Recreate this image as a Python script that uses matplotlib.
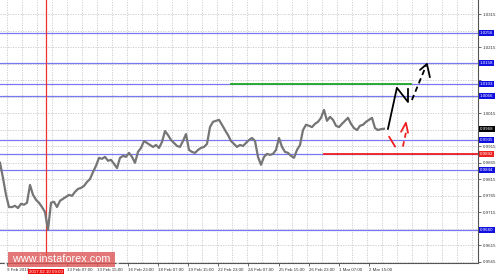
import matplotlib
matplotlib.use("Agg")
import matplotlib.pyplot as plt
from matplotlib.patches import FancyBboxPatch
import numpy as np

# --- DATA ---
# close prices, one sample per 3 hours
prices = [
    0.9865, 0.9819, 0.9768, 0.9731, 0.9731, 0.9735, 0.9728, 0.9741, 0.9738, 0.9744,
    0.9798, 0.9768, 0.9753, 0.9744, 0.9731, 0.9716, 0.9662, 0.9744, 0.9747, 0.9731,
    0.9750, 0.9756, 0.9762, 0.9768, 0.9765, 0.9777, 0.9786, 0.9789, 0.9795, 0.9807,
    0.9816, 0.9837, 0.9856, 0.9880, 0.9877, 0.9883, 0.9871, 0.9874, 0.9862, 0.9849,
    0.9880, 0.9886, 0.9883, 0.9895, 0.9883, 0.9865, 0.9898, 0.9910, 0.9931, 0.9925,
    0.9919, 0.9913, 0.9919, 0.9910, 0.9928, 0.9961, 0.9949, 0.9934, 0.9925, 0.9916,
    0.9913, 0.9931, 0.9952, 0.9904, 0.9898, 0.9895, 0.9904, 0.9910, 0.9913, 0.9922,
    0.9973, 0.9989, 0.9992, 0.9995, 0.9980, 0.9964, 0.9949, 0.9931, 0.9922, 0.9913,
    0.9919, 0.9916, 0.9925, 0.9934, 0.9940, 0.9931, 0.9883, 0.9859, 0.9883, 0.9892,
    0.9889, 0.9892, 0.9904, 0.9940, 0.9913, 0.9898, 0.9895, 0.9886, 0.9880, 0.9904,
    0.9919, 0.9964, 0.9980, 0.9977, 0.9973, 0.9983, 0.9989, 1.0001, 1.0025, 0.9992,
    1.0004, 0.9995, 0.9977, 0.9973, 0.9983, 0.9992, 1.0001, 0.9983, 0.9970, 0.9964,
    0.9977, 0.9980, 0.9989, 0.9995, 1.0001, 0.9970, 0.9964, 0.9967, 0.9968,
]
last_price = "0.9968"

# support / resistance levels (blue) and their labels
levels = [1.0257, 1.0168, 1.0103, 1.0066, 0.9935, 0.9892, 0.9843, 0.9661]
level_labels = ["1.0256", "1.0158", "1.0103", "1.0066", "0.9935", "0.9892", "0.9844", "0.9660"]
green_level = 1.0103
green_span = (77, 137)
red_level = 0.9892
red_start = 108
red_vline = 15.3
red_vline_label = "2017.02.10 09:00"

price_ticks = [0.9565, 0.9615, 0.9665, 0.9715, 0.9765, 0.9815, 0.9865, 0.9915, 0.9965,
               1.0015, 1.0065, 1.0115, 1.0165, 1.0215, 1.0265, 1.0315]
# tick labels hidden behind the level boxes
hidden_ticks = [0.9665, 0.9965, 1.0065, 1.0115, 1.0165, 1.0265]
time_ticks = [2.3, 22.3, 32.3, 42.6, 52.6, 62.6, 72.6, 82.6, 92.9, 103.0, 113.0, 123.0]
time_labels = ["9 Feb 2017", "13 Feb 07:00", "13 Feb 15:00", "16 Feb 23:00", "18 Feb 07:00",
               "19 Feb 15:00", "22 Feb 23:00", "24 Feb 07:00", "25 Feb 15:00",
               "26 Feb 23:00", "1 Mar 07:00", "2 Mar 15:00"]

# hand-drawn forecast paths (bar, price)
bull_path = [(129.3, 0.9967), (132.3, 1.0092), (136.0, 1.0049), (136.0, 1.0089)]
bull_dash = [(137.3, 1.0055), (142.0, 1.0158)]
bull_head = [(140.0, 1.0146), (142.3, 1.0164), (143.3, 1.0124)]
bear_dash1 = [(129.7, 0.9944), (131.7, 0.9914)]
bear_dash2 = [(134.3, 0.9914), (135.3, 0.9956)]
bear_head = [(133.7, 0.9959), (135.3, 0.9986), (136.0, 0.9956)]

plt.rcParams['font.family'] = ['Liberation Sans', 'DejaVu Sans']

fig = plt.figure(figsize=(5, 2.75), dpi=100)
ax = fig.add_axes([0, 12 / 275, 478 / 500, 263 / 275])

x = np.arange(len(prices))
X_MAX = 478 / 3
ax.set_xlim(0, X_MAX)
ax.set_ylim(0.95618, 1.03576)

# grid
for t in price_ticks:
    ax.axhline(t, color="#c8c8c8", lw=0.6, ls=(0, (1.5, 1.5)), zorder=0)
for v in np.arange(2.3, X_MAX, 5.0):
    ax.axvline(v, color="#c8c8c8", lw=0.6, ls=(0, (1.5, 1.5)), zorder=0)

# levels
for lv in levels:
    ax.axhline(lv, color="#7878f2", lw=0.9, zorder=1)
ax.plot(green_span, [green_level, green_level], color="#22aa22", lw=1.3, zorder=2)
ax.plot([red_start, X_MAX], [red_level, red_level], color="#ee2020", lw=1.3, zorder=2)
ax.axvline(red_vline, color="#ee3030", lw=0.9, zorder=2)

# price
ax.plot(x, prices, color="#757575", lw=1.6, zorder=3)

# forecast drawings
def draw(path, color, ls="-"):
    xs, ys = zip(*path)
    ax.plot(xs, ys, color=color, lw=1.3, ls=ls, zorder=4, solid_capstyle="round")

draw(bull_path, "black")
draw(bull_dash, "black", (0, (3, 2)))
draw(bull_head, "black")
draw(bear_dash1, "#ee2020")
draw(bear_dash2, "#ee2020", (0, (3, 2)))
draw(bear_head, "#ee2020")

# axes styling
for s in ["left", "top"]:
    ax.spines[s].set_visible(False)
for s in ["right", "bottom"]:
    ax.spines[s].set_color("#555555")
    ax.spines[s].set_linewidth(0.8)
ax.yaxis.tick_right()
ax.set_yticks(price_ticks)
ax.set_yticklabels(["" if t in hidden_ticks else f"{t:.4f}" for t in price_ticks])
ax.set_xticks(time_ticks)
ax.set_xticklabels(time_labels, ha="left")
ax.tick_params(axis="y", length=2, width=0.5, pad=1.5, labelsize=3.2, colors="#333333")
ax.tick_params(axis="x", length=2, width=0.5, pad=1.5, labelsize=3.2, colors="#333333")

# price boxes on the right axis
box_kw = dict(transform=ax.get_yaxis_transform(), fontsize=3.2, va="center", ha="left",
              color="white", zorder=10, clip_on=False)
for lv, lab in zip(levels, level_labels):
    fc = "#ee2020" if lab == "0.9892" else "#1010e0"
    ax.text(1.004, lv, lab, bbox=dict(boxstyle="square,pad=0.25", fc=fc, ec="none"), **box_kw)
ax.text(1.004, prices[-1], last_price, bbox=dict(boxstyle="square,pad=0.25", fc="black", ec="none"), **box_kw)

# red vline date box
ax.text(red_vline, -0.025, red_vline_label, transform=ax.get_xaxis_transform(), fontsize=3.2,
        ha="center", va="top", color="white", clip_on=False,
        bbox=dict(boxstyle="square,pad=0.2", fc="#ee1010", ec="none"), zorder=10)

# watermark
wm = FancyBboxPatch((8 / 500, 8 / 275), 107 / 500, 15 / 275, boxstyle="square,pad=0",
                    transform=fig.transFigure, fc="#dd5555", ec="none", alpha=0.8, zorder=20)
fig.patches.append(wm)
fig.text(61.5 / 500, 15.5 / 275, "[  www.instaforex.com  ]", color="white", fontsize=7.8,
         ha="center", va="center", zorder=21)

fig.savefig("out.png", dpi=100)
